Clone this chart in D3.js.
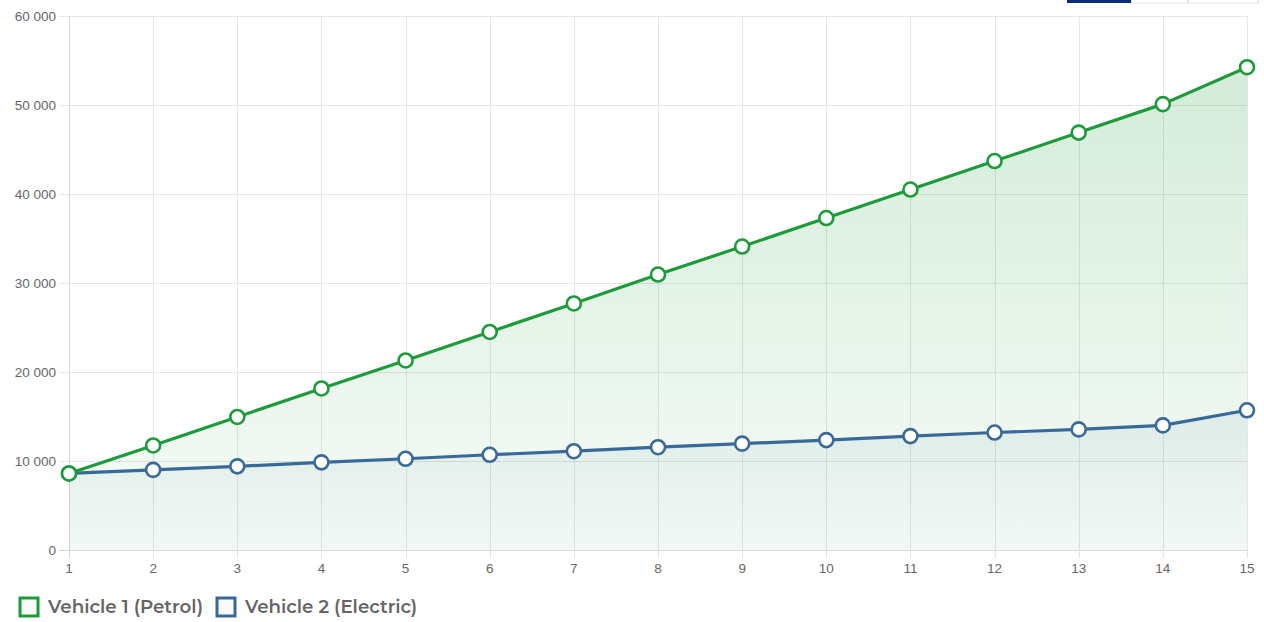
<!DOCTYPE html>
<html>
<head>
<meta charset="utf-8">
<script src="https://cdn.jsdelivr.net/npm/d3@7"></script>
<style>
  html, body { margin: 0; padding: 0; background: #fff; }
  svg { display: block; }
</style>
</head>
<body>
<svg id="chart" width="1264" height="622"></svg>
<script>
// Years of ownership
const years = [1, 2, 3, 4, 5, 6, 7, 8, 9, 10, 11, 12, 13, 14, 15];
// Cumulative cost of ownership per vehicle
const petrolCost = [8600, 11750, 14950, 18150, 21300, 24500, 27700, 30950, 34100, 37300, 40500, 43700, 46900, 50100, 54250];
const electricCost = [8600, 9000, 9400, 9850, 10250, 10700, 11100, 11550, 11950, 12350, 12800, 13200, 13550, 14000, 15700];
const yTicks = [0, 10000, 20000, 30000, 40000, 50000, 60000];
const seriesNames = ["Vehicle 1 (Petrol)", "Vehicle 2 (Electric)"];

const green = "#1d9b3a";
const blue = "#386a99";

const svg = d3.select("#chart");
const plot = { left: 69, right: 1247, top: 16, bottom: 550 };

const x = d3.scaleLinear().domain([1, 15]).range([plot.left, plot.right]);
const y = d3.scaleLinear().domain([0, 60000]).range([plot.bottom, plot.top]);

const defs = svg.append("defs");
const gP = defs.append("linearGradient").attr("id", "gPetrol")
  .attr("gradientUnits", "userSpaceOnUse").attr("x1", 0).attr("x2", 0)
  .attr("y1", y(d3.max(petrolCost))).attr("y2", plot.bottom);
gP.append("stop").attr("offset", 0).attr("stop-color", green).attr("stop-opacity", 0.19);
gP.append("stop").attr("offset", 1).attr("stop-color", green).attr("stop-opacity", 0.04);
const gE = defs.append("linearGradient").attr("id", "gElectric")
  .attr("gradientUnits", "userSpaceOnUse").attr("x1", 0).attr("x2", 0)
  .attr("y1", y(d3.max(electricCost))).attr("y2", plot.bottom);
gE.append("stop").attr("offset", 0).attr("stop-color", blue).attr("stop-opacity", 0.08);
gE.append("stop").attr("offset", 1).attr("stop-color", blue).attr("stop-opacity", 0.02);

// Grid
const grid = svg.append("g");
grid.selectAll("line.h").data(yTicks).join("line")
  .attr("x1", plot.left - 10).attr("x2", plot.right)
  .attr("y1", d => Math.round(y(d)) + 0.5).attr("y2", d => Math.round(y(d)) + 0.5)
  .attr("stroke", d => d === 0 ? "#d9d9d9" : "#e6e6e6").attr("stroke-width", 1);
grid.selectAll("line.v").data(years).join("line")
  .attr("y1", plot.top).attr("y2", plot.bottom + 8)
  .attr("x1", d => Math.round(x(d)) + 0.5).attr("x2", d => Math.round(x(d)) + 0.5)
  .attr("stroke", d => d === 1 ? "#d9d9d9" : "#e6e6e6").attr("stroke-width", 1);

// Y labels
svg.append("g").selectAll("text").data(yTicks).join("text")
  .attr("x", plot.left - 13).attr("y", d => y(d)).attr("dy", "0.35em")
  .attr("text-anchor", "end")
  .attr("font-family", "'Liberation Sans', Arial, sans-serif").attr("font-size", 13.5)
  .attr("fill", "#666")
  .text(d => d3.format(",")(d).replace(/,/g, " "));

// X labels
svg.append("g").selectAll("text").data(years).join("text")
  .attr("x", d => x(d)).attr("y", plot.bottom + 23)
  .attr("text-anchor", "middle")
  .attr("font-family", "'Liberation Sans', Arial, sans-serif").attr("font-size", 13.5)
  .attr("fill", "#666")
  .text(d => d);

// Areas
const area = vals => d3.area().x((d, i) => x(years[i])).y0(y(0)).y1(d => y(d))(vals);
svg.append("path").attr("d", area(petrolCost)).attr("fill", "url(#gPetrol)");
svg.append("path").attr("d", area(electricCost)).attr("fill", "url(#gElectric)");

// Lines
const line = vals => d3.line().x((d, i) => x(years[i])).y(d => y(d))(vals);
const series = [
  { vals: electricCost, color: blue },
  { vals: petrolCost, color: green }
];
series.forEach(s => {
  svg.append("path").attr("d", line(s.vals)).attr("fill", "none")
    .attr("stroke", s.color).attr("stroke-width", 3.2).attr("stroke-linejoin", "round");
});
series.forEach(s => {
  svg.append("g").selectAll("circle").data(s.vals).join("circle")
    .attr("cx", (d, i) => x(years[i])).attr("cy", d => y(d)).attr("r", 7)
    .attr("fill", "#fff").attr("stroke", s.color).attr("stroke-width", 2.6);
});

// Legend
const legend = svg.append("g").attr("font-family", "Montserrat, 'Open Sans', sans-serif")
  .attr("font-size", 17.5).attr("font-weight", 600).attr("fill", "#666");
const legendItems = [
  { name: seriesNames[0], color: green, bx: 20, tx: 48, w: 155 },
  { name: seriesNames[1], color: blue, bx: 217, tx: 245, w: 172 }
];
legendItems.forEach(d => {
  legend.append("rect").attr("x", d.bx).attr("y", 598).attr("width", 18).attr("height", 18)
    .attr("fill", "#fafafa").attr("stroke", d.color).attr("stroke-width", 3);
  legend.append("text").attr("x", d.tx).attr("y", 607).attr("dy", "0.35em")
    .attr("textLength", d.w).attr("lengthAdjust", "spacingAndGlyphs").text(d.name);
});

// Toolbar buttons partly visible at the top edge
const btns = svg.append("g");
btns.append("rect").attr("x", 1067).attr("y", -10).attr("width", 64).attr("height", 13).attr("fill", "#0b2d78");
btns.append("rect").attr("x", 1131.5).attr("y", -10).attr("width", 56).attr("height", 13)
  .attr("fill", "#fff").attr("stroke", "#e2e2e2");
btns.append("rect").attr("x", 1188.5).attr("y", -10).attr("width", 70).attr("height", 13)
  .attr("fill", "#fff").attr("stroke", "#e2e2e2");
</script>
</body>
</html>
